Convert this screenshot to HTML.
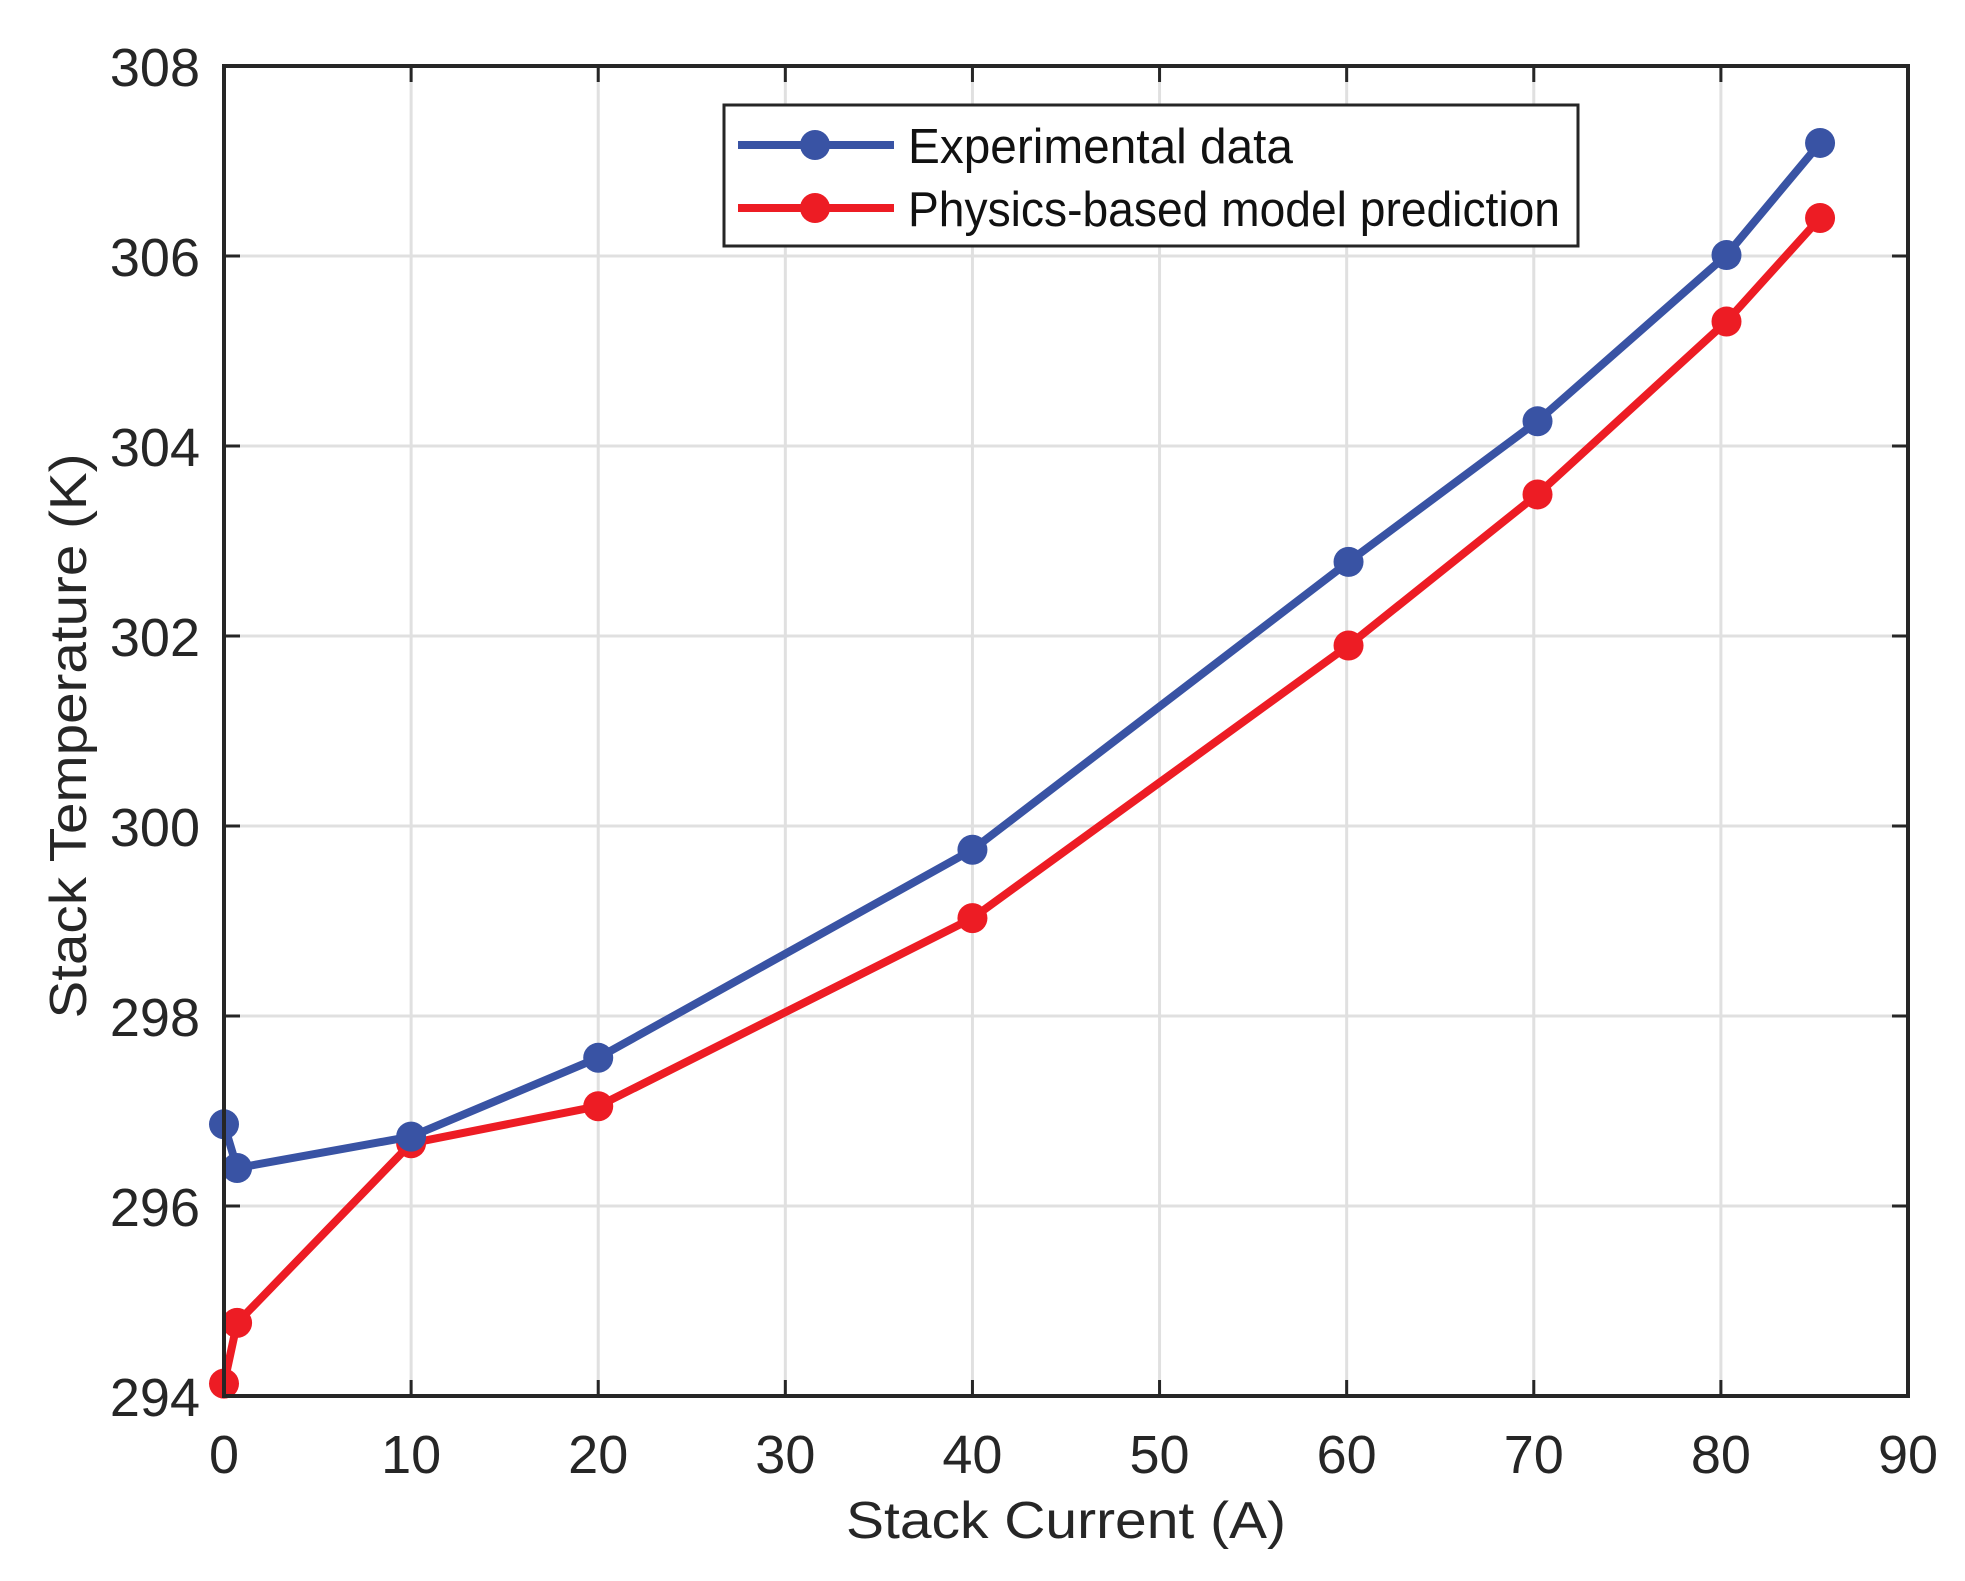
<!DOCTYPE html>
<html><head><meta charset="utf-8"><style>
html,body{margin:0;padding:0;background:#fff;}
svg{display:block;font-family:"Liberation Sans",Arial,sans-serif;}
</style></head><body>
<svg id="chart" width="1965" height="1581" viewBox="0 0 1965 1581" xmlns="http://www.w3.org/2000/svg">
<rect width="1965" height="1581" fill="#fff"/>
<g id="grid"></g>
<g id="series"></g>
<g id="axes"></g>
<text x="1066" y="1538" font-size="52" text-anchor="middle" textLength="440" lengthAdjust="spacingAndGlyphs" fill="#262626">Stack Current (A)</text>
<text transform="translate(86,736) rotate(-90)" font-size="52" text-anchor="middle" textLength="565" lengthAdjust="spacingAndGlyphs" fill="#262626">Stack Temperature (K)</text>
<g>
<rect x="724" y="105" width="854" height="141" fill="#fff" stroke="#262626" stroke-width="3"/>
<g>
<line x1="738" y1="145" x2="894" y2="145" stroke="#3953a4" stroke-width="8"/>
<circle cx="815" cy="145" r="15" fill="#3953a4"/>
<text x="908" y="163" font-size="49" textLength="385" lengthAdjust="spacingAndGlyphs" fill="#111">Experimental data</text>
</g>
<g>
<line x1="738" y1="208" x2="894" y2="208" stroke="#ed1c24" stroke-width="8"/>
<circle cx="815" cy="208" r="15" fill="#ed1c24"/>
<text x="908" y="226" font-size="49" textLength="652" lengthAdjust="spacingAndGlyphs" fill="#111">Physics-based model prediction</text>
</g>
</g>
</svg>
<script>
const currents = [0, 0.7, 10, 20, 40, 60.1, 70.2, 80.3, 85.3];
const experimental = [296.86, 296.40, 296.73, 297.56, 299.75, 302.78, 304.26, 306.01, 307.19];
const model = [294.13, 294.77, 296.66, 297.05, 299.03, 301.90, 303.49, 305.31, 306.40];
const xTicks = [0, 10, 20, 30, 40, 50, 60, 70, 80, 90];
const yTicks = [294, 296, 298, 300, 302, 304, 306, 308];

const L = 224, R = 1908, T = 66, B = 1396;
const xMin = 0, xMax = 90, yMin = 294, yMax = 308;
function sx(v){ return L + (v - xMin) / (xMax - xMin) * (R - L); }
function sy(v){ return B - (v - yMin) / (yMax - yMin) * (B - T); }
const NS = "http://www.w3.org/2000/svg";
function mk(tag, attrs, parent){
  const e = document.createElementNS(NS, tag);
  for (const k in attrs) e.setAttribute(k, attrs[k]);
  parent.appendChild(e); return e;
}
const grid = document.getElementById('grid');
const axes = document.getElementById('axes');
const series = document.getElementById('series');

xTicks.forEach(t => {
  const x = sx(t);
  const g = mk('line', {x1:x, y1:T, x2:x, y2:B, stroke:'#e0e0e0', 'stroke-width':3}, grid);
  
  
  mk('line', {x1:x, y1:B, x2:x, y2:B-16, stroke:'#262626', 'stroke-width':3}, axes);
  mk('line', {x1:x, y1:T, x2:x, y2:T+16, stroke:'#262626', 'stroke-width':3}, axes);
  const lb = mk('text', {x:x, y:1473, 'font-size':54, 'text-anchor':'middle', fill:'#262626'}, axes);
  lb.textContent = t;
  
  
});
yTicks.forEach(t => {
  const y = sy(t);
  const g = mk('line', {x1:L, y1:y, x2:R, y2:y, stroke:'#e0e0e0', 'stroke-width':3}, grid);
  
  
  mk('line', {x1:L, y1:y, x2:L+16, y2:y, stroke:'#262626', 'stroke-width':3}, axes);
  mk('line', {x1:R, y1:y, x2:R-16, y2:y, stroke:'#262626', 'stroke-width':3}, axes);
  const lb = mk('text', {x:200, y:y+20, 'font-size':54, 'text-anchor':'end', fill:'#262626'}, axes);
  lb.textContent = t;
  
  
});
const frame = mk('rect', {x:L, y:T, width:R-L, height:B-T, fill:'none', stroke:'#262626', 'stroke-width':4}, axes);



function drawSeries(vals, color, name){
  const pts = currents.map((c,i) => sx(c).toFixed(1) + ',' + sy(vals[i]).toFixed(1)).join(' ');
  const pl = mk('polyline', {points:pts, fill:'none', stroke:color, 'stroke-width':8, 'stroke-linejoin':'round'}, series);
  
  
  currents.forEach((c,i) => {
    const m = mk('circle', {cx:sx(c), cy:sy(vals[i]), r:15, fill:color}, series);
    
    
  });
}
drawSeries(model, '#ed1c24', 'model');
drawSeries(experimental, '#3953a4', 'experimental');
</script>
</body></html>
